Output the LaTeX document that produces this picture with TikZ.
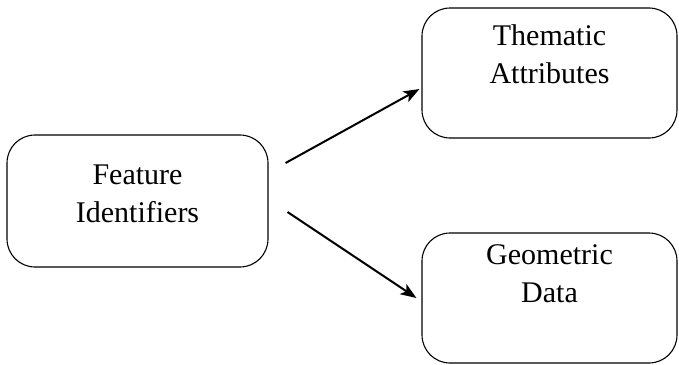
\documentclass[tikz,border=0pt]{standalone}
\usepackage{fontspec}
\setmainfont{Liberation Serif}
\usepackage{tikz}
\usetikzlibrary{arrows.meta}

\begin{document}
\begin{tikzpicture}[x=1pt, y=-1pt,
    box/.style = {draw, line width=1.1pt, rounded corners=28pt, minimum width=#1, minimum height=130pt},
    lbl/.style = {align=center, font=\fontsize{30}{38}\selectfont},
    arr/.style = {-{Stealth[length=16pt, width=12pt, inset=4pt]}, line width=2pt}]
    \useasboundingbox (0, 0) rectangle (679, 364);
        \node[box=261pt, minimum height=132pt] (fid) at (137.5, 201) {};
        \node[box=255pt] (them) at (549.5, 73) {};
        \node[box=255pt] (geo) at (549.5, 298) {};
        \node[lbl] (fidtxt) at (137.5, 194) {Feature\\Identifiers};
        \node[lbl] (themtxt) at (549.5, 54) {Thematic\\Attributes};
        \node[lbl] (geotxt) at (549.5, 274) {Geometric\\Data};
        \draw[arr] ([shift={(17pt,38pt)}]fid.east) -- ([shift={(-2pt,-16pt)}]them.west);
        \draw[arr] ([shift={(19pt,-11pt)}]fid.east) -- ([xshift=-5pt]geo.west);
     \end{tikzpicture}
\end{document}
